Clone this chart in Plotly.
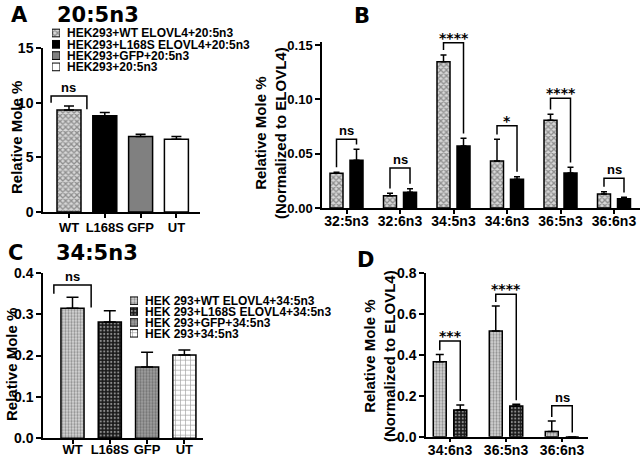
import plotly.graph_objects as go

W, H = 640, 458

# ---------------- data ----------------
a_labels = ["WT", "L168S", "GFP", "UT"]
a_legend = ["HEK293+WT ELOVL4+20:5n3", "HEK293+L168S ELOVL4+20:5n3",
            "HEK293+GFP+20:5n3", "HEK293+20:5n3"]
a_mean = [9.33, 8.80, 6.90, 6.65]
a_err = [0.37, 0.30, 0.22, 0.25]
a_ticks = [0, 5, 10, 15]
a_sig = ["ns"]

b_cats = ["32:5n3", "32:6n3", "34:5n3", "34:6n3", "36:5n3", "36:6n3"]
b_wt = [0.0319, 0.0113, 0.1347, 0.0433, 0.0807, 0.0129]
b_wt_err = [0.0011, 0.0022, 0.0061, 0.0199, 0.0055, 0.0021]
b_mut = [0.0439, 0.0144, 0.0571, 0.0264, 0.0322, 0.0086]
b_mut_err = [0.0101, 0.0034, 0.0070, 0.0024, 0.0052, 0.0012]
b_sig = ["ns", "ns", "****", "*", "****", "ns"]
b_ticks = [0, 0.05, 0.10, 0.15]

c_labels = ["WT", "L168S", "GFP", "UT"]
c_legend = ["HEK 293+WT ELOVL4+34:5n3", "HEK 293+L168S ELOVL4+34:5n3",
            "HEK 293+GFP+34:5n3", "HEK 293+34:5n3"]
c_mean = [0.314, 0.281, 0.172, 0.201]
c_err = [0.027, 0.027, 0.036, 0.0125]
c_ticks = [0, 0.1, 0.2, 0.3, 0.4]
c_sig = ["ns"]

d_cats = ["34:6n3", "36:5n3", "36:6n3"]
d_wt = [0.367, 0.5175, 0.026]
d_wt_err = [0.036, 0.1225, 0.051]
d_mut = [0.131, 0.150, 0.0]
d_mut_err = [0.024, 0.009, 0.0]
d_sig = ["***", "****", "ns"]
d_ticks = [0, 0.2, 0.4, 0.6, 0.8]

# ---------------- layout constants ----------------
FONT = "Liberation Sans, Arial, Helvetica, sans-serif"
WIDE = "DejaVu Sans, Verdana, sans-serif"
# bracket heights (data units)
a_br_top = [10.6]
b_br_top = [0.0632, 0.0368, 0.1521, 0.0757, 0.1009, 0.0273]
c_br_top = [0.370]
d_br_top = [0.4686, 0.697, 0.152]


def dx(a, b):
    return [a / W, b / W]


def dy(top, bottom):
    return [1 - bottom / H, 1 - top / H]


fig = go.Figure()


def bar_trace(x, y, err, colors, shapes, fgs, sizes, sols, width, offset, xa, ya, capw):
    return go.Bar(
        x=x, y=y, width=width, offset=offset, xaxis=xa, yaxis=ya,
        marker=dict(color=colors, line=dict(color="black", width=1.5),
                    pattern=dict(shape=shapes, fgcolor=fgs, size=sizes,
                                 solidity=sols, fillmode="overlay")),
        error_y=dict(type="data", array=err, arrayminus=[0] * len(err), symmetric=False,
                     color="black", thickness=1.5, width=capw),
        showlegend=False, hoverinfo="skip")


# styles for panel A (one per bar): base colour + overlay pattern
a_col = ["#d8d8d8", "black", "#808080", "white"]
a_shape = ["x", "", "", ""]
a_fg = ["#000000", "black", "#808080", "white"]
a_size = [4, 8, 8, 8]
a_sol = [0.55, 0.3, 0.3, 0.3]

# styles for panel C
c_col = ["#d8d8d8", "#1a1a1a", "#a0a0a0", "white"]
c_shape = [".", ".", ".", "+"]
c_fg = ["#a8a8a8", "#9a9a9a", "#2a2a2a", "black"]
c_size = [3, 3.5, 3, 5]
c_sol = [0.45, 0.3, 0.45, 0.25]

ax = [0, 1, 2, 3]
# Panel A
fig.add_trace(bar_trace(ax, a_mean, a_err, a_col, a_shape, a_fg, a_size, a_sol,
                        0.67, -0.335, "x", "y", 5))
# Panel B
bx = list(range(len(b_cats)))
n = len(bx)
fig.add_trace(bar_trace(bx, b_wt, b_wt_err, [a_col[0]] * n, [a_shape[0]] * n, [a_fg[0]] * n,
                        [a_size[0]] * n, [a_sol[0]] * n, 0.243, -0.3085, "x2", "y2", 3))
fig.add_trace(bar_trace(bx, b_mut, b_mut_err, [a_col[1]] * n, [a_shape[1]] * n, [a_fg[1]] * n,
                        [a_size[1]] * n, [a_sol[1]] * n, 0.243, 0.0655, "x2", "y2", 3))
# Panel C
fig.add_trace(bar_trace(ax, c_mean, c_err, c_col, c_shape, c_fg, c_size, c_sol,
                        0.62, -0.31, "x3", "y3", 6))
# Panel D
dxs = list(range(len(d_cats)))
m = len(dxs)
fig.add_trace(bar_trace(dxs, d_wt, d_wt_err, [c_col[0]] * m, [c_shape[0]] * m, [c_fg[0]] * m,
                        [c_size[0]] * m, [c_sol[0]] * m, 0.232, -0.299, "x4", "y4", 4))
fig.add_trace(bar_trace(dxs, d_mut, d_mut_err, [c_col[1]] * m, [c_shape[1]] * m, [c_fg[1]] * m,
                        [c_size[1]] * m, [c_sol[1]] * m, 0.232, 0.067, "x4", "y4", 4))

# legend swatches (as tiny horizontal bars, labels as tick text)
for labels, col, shp, fg, sz, sol, xa, ya in [
        (a_legend, a_col, a_shape, a_fg, a_size, a_sol, "x5", "y5"),
        (c_legend, c_col, c_shape, c_fg, c_size, c_sol, "x6", "y6")]:
    fig.add_trace(go.Bar(
        y=list(range(len(labels))), x=[1] * len(labels), orientation="h", width=0.68,
        xaxis=xa, yaxis=ya,
        marker=dict(color=col, line=dict(color="black", width=1),
                    pattern=dict(shape=shp, fgcolor=fg, size=sz, solidity=sol,
                                 fillmode="overlay")),
        showlegend=False, hoverinfo="skip"))


def brackets(xaxis, yaxis, tops, wt, wte, mut, mute, gap, half, sigs):
    shapes, anns = [], []
    for i, top in enumerate(tops):
        x0, x1 = i - half, i + half
        yl = wt[i] + wte[i] + gap
        yr = mut[i] + mute[i] + gap
        shapes.append(dict(type="path", xref=xaxis, yref=yaxis,
                           path=f"M {x0},{yl} L {x0},{top} L {x1},{top} L {x1},{yr}",
                           line=dict(color="black", width=1.5)))
        star = sigs[i] != "ns"
        anns.append(dict(x=i, y=top, xref=xaxis, yref=yaxis, text="<b>" + sigs[i] + "</b>", showarrow=False,
                         yanchor="bottom", xanchor="center",
                         yshift=-5 if star else -1,
                         font=dict(family=WIDE if star else FONT, size=14 if star else 13,
                                   color="black", weight="bold")))
    return shapes, anns


shapes, anns = [], []
s, a = brackets("x", "y", a_br_top, [a_mean[0]], [a_err[0]], [a_mean[1]], [a_err[1]], 0.3, 0.5, a_sig)
shapes += s; anns += a
s, a = brackets("x2", "y2", b_br_top, b_wt, b_wt_err, b_mut, b_mut_err, 0.0045, 0.187, b_sig)
shapes += s; anns += a
s, a = brackets("x3", "y3", c_br_top, [c_mean[0]], [c_err[0]], [c_mean[1]], [c_err[1]], 0.008, 0.5, c_sig)
shapes += s; anns += a
s, a = brackets("x4", "y4", d_br_top, d_wt, d_wt_err, d_mut, d_mut_err, 0.02, 0.183, d_sig)
shapes += s; anns += a


def txt(x, y, text, size, angle=0, family=FONT):
    return dict(x=x / W, y=1 - y / H, xref="paper", yref="paper", text="<b>" + text + "</b>",
                showarrow=False, xanchor="center", yanchor="middle", textangle=angle,
                font=dict(family=family, size=size, color="black", weight="bold"))


anns += [
    txt(19, 15, "A", 21, family=WIDE), txt(98, 15, "20:5n3", 21, family=WIDE),
    txt(362, 16, "B", 21, family=WIDE),
    txt(15, 253, "C", 21, family=WIDE), txt(97, 253, "34:5n3", 21, family=WIDE),
    txt(365, 260, "D", 21, family=WIDE),
    txt(17, 138, "Relative Mole %", 15, -90),
    txt(271, 133, "Relative Mole %<br>(Normalized to ELOVL4)", 15, -90),
    txt(11, 365, "Relative Mole %", 15, -90),
    txt(379, 356, "Relative Mole %<br>(Normalized to ELOVL4)", 15, -90),
]

TICKF = dict(family=FONT, size=13, color="black", weight="bold")
TICKF14 = dict(family=FONT, size=14, color="black", weight="bold")


def xax(dom, rng, anchor, labels, font=TICKF, standoff=0):
    return dict(domain=dom, range=rng, anchor=anchor, showline=True, linecolor="black", linewidth=1.5,
                ticks="outside", ticklen=4, tickwidth=1.5, tickcolor="black",
                tickmode="array", tickvals=list(range(len(labels))), ticktext=labels,
                ticklabelstandoff=standoff,
                tickfont=font, showgrid=False, zeroline=False, fixedrange=True, automargin=False)


def yax(dom, rng, anchor, vals, fmt, font=TICKF):
    return dict(domain=dom, range=rng, anchor=anchor, showline=True, linecolor="black", linewidth=1.5,
                ticks="outside", ticklen=5, tickwidth=1.5, tickcolor="black",
                tickmode="array", tickvals=vals, tickformat=fmt,
                tickfont=font, showgrid=False, zeroline=False, fixedrange=True, automargin=False)


b_top_px = 208 - 0.153 * (163 / 0.15)

layout = dict(
    template="none",
    width=W, height=H, margin=dict(l=0, r=0, t=0, b=0, pad=0, autoexpand=False),
    paper_bgcolor="white", plot_bgcolor="rgba(0,0,0,0)",
    barmode="overlay", showlegend=False,
    xaxis=xax(dx(43, 200), [-0.726, 3.659], "y", a_labels, TICKF, -1),
    yaxis=yax(dy(48, 212), [0, 15], "x", a_ticks, "d", TICKF14),
    xaxis2=xax(dx(322, 640), [-0.458, 5.486], "y2", b_cats, TICKF14, -5),
    yaxis2=yax(dy(b_top_px, 208), [0, 0.153], "x2", b_ticks, ".2f"),
    xaxis3=xax(dx(43, 203), [-0.791, 3.499], "y3", c_labels, TICKF, -6),
    yaxis3=yax(dy(272.7, 438.3), [0, 0.4], "x3", c_ticks, ".1f", TICKF14),
    xaxis4=xax(dx(426, 588), [-0.429, 2.464], "y4", d_cats, TICKF14, -4),
    yaxis4=yax(dy(273.3, 436.7), [0, 0.8], "x4", d_ticks, ".1f", TICKF14),
    xaxis5=dict(domain=dx(52, 60), range=[0, 1], anchor="y5", visible=False, fixedrange=True,
                automargin=False),
    yaxis5=dict(domain=dy(27.35, 72.55), range=[3.5, -0.5], anchor="x5", side="right",
                showline=False, ticks="", showgrid=False, zeroline=False, automargin=False,
                tickmode="array", tickvals=list(range(4)), ticktext=a_legend,
                ticklabelstandoff=6, tickfont=dict(family=FONT, size=12, color="black", weight="bold"),
                fixedrange=True),
    xaxis6=dict(domain=dx(130, 138), range=[0, 1], anchor="y6", visible=False, fixedrange=True,
                automargin=False),
    yaxis6=dict(domain=dy(295.2, 338.8), range=[3.5, -0.5], anchor="x6", side="right",
                showline=False, ticks="", showgrid=False, zeroline=False, automargin=False,
                tickmode="array", tickvals=list(range(4)), ticktext=c_legend,
                ticklabelstandoff=6, tickfont=dict(family=FONT, size=12, color="black", weight="bold"),
                fixedrange=True),
    shapes=shapes, annotations=anns,
)
fig.update_layout(**layout)
fig.write_html("out.html", config={"displayModeBar": False},
               post_script="document.body.style.margin='0';document.body.style.overflow='hidden';")
